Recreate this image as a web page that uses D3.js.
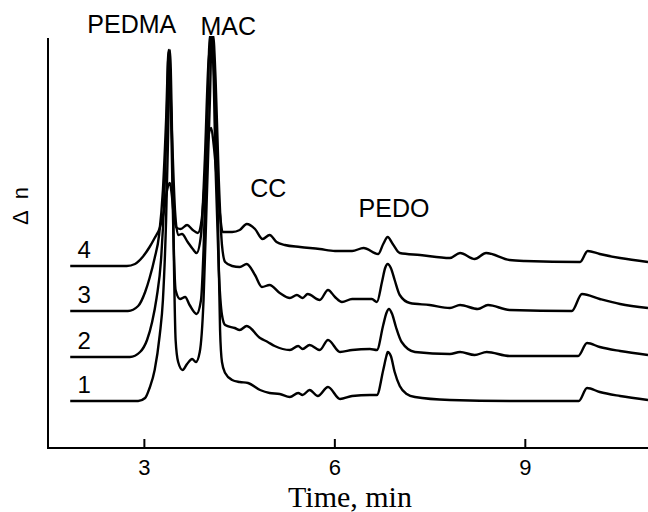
<!DOCTYPE html>
<html>
<head>
<meta charset="utf-8">
<script src="https://d3js.org/d3.v7.min.js"></script>
<style>
    body { margin: 0; background: #fff; }
    svg { display: block; }
    text { font-family: "Liberation Sans", Arial, sans-serif; fill: #000; }
</style>
</head>
<body>
<div id="graph"></div>
<script>
// chromatograms 1..4, [time (min), delta n (arbitrary units)]
var trace1 = [[1.84,4.7],[2.91,4.7],[3.02,5.0],[3.09,6.0],[3.17,7.8],[3.25,11.3],[3.30,14.8],[3.35,22.8],
    [3.38,30.8],[3.41,39.8],[3.44,32.8],[3.47,19.8],[3.50,10.8],[3.54,8.6],[3.61,7.8],[3.68,8.4],[3.76,8.9],
    [3.82,8.6],[3.88,9.6],[3.94,14.8],[3.99,24.8],[4.04,34.8],[4.07,41.3],[4.12,34.8],[4.17,21.8],[4.20,11.8],
    [4.23,8.6],[4.28,7.5],[4.39,6.8],[4.51,6.6],[4.64,6.5],[4.83,5.8],[4.98,5.5],[5.14,5.4],[5.30,5.1],
    [5.43,5.5],[5.50,5.3],[5.61,5.8],[5.74,5.2],[5.90,6.1],[6.09,4.9],[6.28,5.2],[6.56,5.3],[6.67,5.3],
    [6.77,7.8],[6.82,9.2],[6.84,9.6],[6.89,9.2],[6.95,7.6],[7.03,6.2],[7.14,5.4],[7.27,5.1],[7.82,4.8],
    [8.76,4.7],[9.85,4.7],[9.98,6.0],[10.18,5.6],[10.50,5.2],[10.94,4.8]];

var trace2 = [[1.84,9.1],[2.78,9.1],[2.94,9.6],[3.05,10.8],[3.13,12.6],[3.20,15.0],[3.27,18.8],[3.32,24.8],
    [3.36,32.8],[3.39,39.6],[3.43,32.8],[3.46,22.8],[3.50,15.8],[3.57,14.9],[3.65,15.1],[3.72,14.3],[3.83,13.4],
    [3.90,14.8],[3.94,19.8],[3.99,29.8],[4.04,41.3],[4.09,38.8],[4.13,27.8],[4.18,17.8],[4.23,13.3],[4.28,12.3],
    [4.43,12.0],[4.51,11.8],[4.62,12.2],[4.83,11.0],[4.95,10.6],[5.06,10.2],[5.30,9.8],[5.43,10.2],[5.50,9.9],
    [5.61,10.3],[5.77,9.8],[5.90,10.8],[6.09,9.6],[6.28,9.8],[6.56,9.9],[6.67,9.8],[6.77,12.3],[6.82,13.5],
    [6.86,13.9],[6.91,13.4],[6.97,12.1],[7.06,10.6],[7.27,9.6],[7.82,9.4],[7.98,9.6],[8.21,9.3],[8.40,9.6],
    [8.76,9.2],[9.84,9.2],[9.98,10.5],[10.18,10.1],[10.50,9.7],[10.94,9.3]];

var trace3 = [[1.84,13.7],[2.75,13.7],[2.91,14.2],[3.02,15.6],[3.09,17.0],[3.17,19.0],[3.24,21.3],[3.30,25.8],
    [3.35,32.8],[3.39,39.8],[3.44,31.8],[3.49,23.8],[3.54,21.3],[3.60,21.4],[3.69,20.6],[3.77,19.9],[3.83,19.5],
    [3.90,21.3],[3.96,28.8],[4.02,38.8],[4.09,41.3],[4.13,36.8],[4.18,26.8],[4.23,20.3],[4.28,18.6],[4.39,18.2],
    [4.51,18.1],[4.62,18.4],[4.75,17.3],[4.86,16.1],[4.98,16.3],[5.14,15.5],[5.30,15.0],[5.41,15.3],[5.50,15.0],
    [5.58,15.4],[5.77,14.8],[5.90,15.8],[6.01,15.1],[6.12,14.6],[6.28,14.9],[6.59,14.9],[6.67,14.6],[6.75,16.6],
    [6.80,18.0],[6.84,18.4],[6.89,18.0],[6.95,16.8],[7.03,15.3],[7.19,14.5],[7.50,14.3],[7.82,14.0],[7.98,14.3],
    [8.26,13.9],[8.42,14.3],[8.76,13.8],[9.74,13.7],[9.90,15.4],[10.18,14.9],[10.50,14.4],[10.94,14.0]];

var trace4 = [[1.84,18.2],[2.73,18.2],[2.86,18.4],[2.98,19.1],[3.09,20.1],[3.17,21.0],[3.25,22.0],[3.32,23.8],
    [3.36,25.6],[3.41,26.5],[3.44,25.3],[3.47,23.3],[3.52,22.0],[3.58,21.9],[3.68,22.3],[3.77,21.8],[3.85,21.5],
    [3.91,22.8],[3.96,26.8],[4.01,30.8],[4.06,32.0],[4.10,30.3],[4.15,26.8],[4.20,23.3],[4.24,21.6],[4.39,21.6],
    [4.51,21.8],[4.62,22.4],[4.75,21.9],[4.87,20.9],[4.98,21.3],[5.09,20.6],[5.22,20.3],[5.46,20.1],[5.77,19.9],
    [6.01,19.7],[6.28,19.7],[6.46,20.0],[6.69,19.4],[6.77,20.4],[6.84,21.1],[6.92,20.4],[7.03,19.5],[7.35,19.3],
    [7.82,19.0],[7.98,19.5],[8.21,18.9],[8.39,19.5],[8.76,18.8],[9.00,18.7],[9.87,18.6],[9.99,19.7],[10.18,19.4],
    [10.50,19.0],[10.94,18.6]];

var traceNames = ["1", "2", "3", "4"];
var xTicks = [3, 6, 9];

// peak names with the [time, delta n] where the label sits
var peakNames = ["PEDMA", "MAC", "CC", "PEDO"];
var peakSpots = [[2.81, 41.5], [4.33, 41.3], [4.96, 25.1], [6.94, 23.1]];

var width = 648;
var height = 512;

window.onload = start;

function start() {
    var traces = [trace1, trace2, trace3, trace4];

    var svg = d3.select('#graph')
        .append('svg')
        .attr('width', width)
        .attr('height', height);

    var xScale = d3.scaleLinear().domain([1.49, 10.94]).range([48, 648]);
    var yScale = d3.scaleLinear().domain([0, 41]).range([448, 38]);

    // the tall peaks run into the top of the frame
    svg.append('clipPath').attr('id', 'plot-clip')
        .append('rect')
        .attr('x', 48).attr('y', 36)
        .attr('width', 600).attr('height', 412);

    var line = d3.line()
        .x(function(d) { return xScale(d[0]); })
        .y(function(d) { return yScale(d[1]); })
        .curve(d3.curveMonotoneX);

    svg.append('g')
        .attr('clip-path', 'url(#plot-clip)')
        .selectAll('.trace')
        .data(traces)
        .enter()
        .append('path')
        .attr('class', 'trace')
        .attr('d', line)
        .attr('fill', 'none')
        .attr('stroke', '#000')
        .attr('stroke-width', 2.4)
        .attr('stroke-linejoin', 'round');

    // x axis, ticks point inward
    var xAxis = svg.append('g')
        .attr('transform', 'translate(0,448)')
        .call(d3.axisBottom(xScale).tickValues(xTicks).tickSize(-9).tickPadding(15)
            .tickFormat(d3.format('d')));
    xAxis.select('.domain').attr('d', 'M47,0H648').attr('stroke-width', 2);
    xAxis.selectAll('.tick line').attr('stroke-width', 2);
    xAxis.selectAll('.tick text')
        .attr('font-size', 22)
        .attr('font-family', '"Liberation Sans", Arial, sans-serif')
        .attr('dy', '0.55em');

    // y axis is a plain line without ticks
    svg.append('line')
        .attr('x1', 48).attr('x2', 48)
        .attr('y1', 38).attr('y2', 449)
        .attr('stroke', '#000')
        .attr('stroke-width', 2);

    // curve numbers, just above each baseline
    svg.selectAll('.num')
        .data(traces)
        .enter()
        .append('text')
        .attr('class', 'num')
        .attr('x', xScale(2.06))
        .attr('y', function(d) { return yScale(d[0][1]) - 8; })
        .attr('text-anchor', 'middle')
        .attr('font-size', 24)
        .text(function(d, i) { return traceNames[i]; });

    svg.selectAll('.peak')
        .data(peakNames)
        .enter()
        .append('text')
        .attr('class', 'peak')
        .attr('x', function(d, i) { return xScale(peakSpots[i][0]); })
        .attr('y', function(d, i) { return yScale(peakSpots[i][1]); })
        .attr('text-anchor', 'middle')
        .attr('font-size', 25)
        .text(function(d) { return d; });

    svg.append('text')
        .attr('x', 350)
        .attr('y', 507)
        .attr('text-anchor', 'middle')
        .style('font-family', '"Liberation Serif", "Times New Roman", serif')
        .attr('font-size', 30)
        .text('Time, min');

    svg.append('text')
        .attr('transform', 'translate(28,206) rotate(-90)')
        .attr('text-anchor', 'middle')
        .attr('font-size', 22)
        .text('\u0394\u2002n');
}
</script>
</body>
</html>
